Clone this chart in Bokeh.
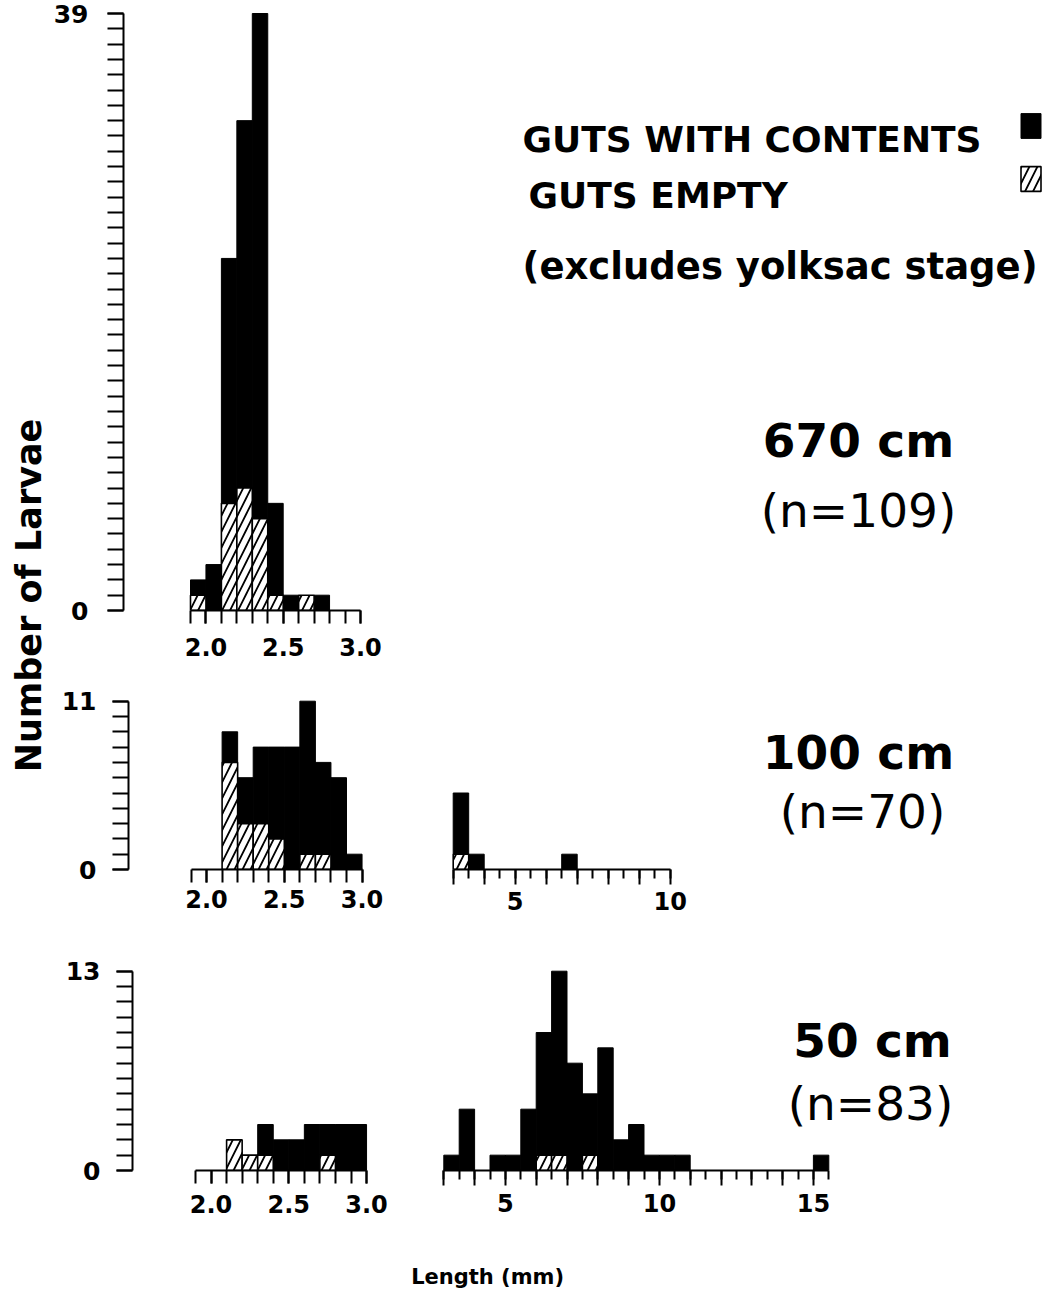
import numpy as np
from bokeh.plotting import figure
from bokeh.layouts import row, column
from bokeh.models import Range1d, FixedTicker, NumeralTickFormatter, Legend, LegendItem
from bokeh.core.properties import value
from bokeh.embed import file_html
from bokeh.resources import INLINE

# ---------------- data ----------------
# 670 cm, 0.1 mm bins (lower edges)
bins_670 = [1.9, 2.0, 2.1, 2.2, 2.3, 2.4, 2.5, 2.6, 2.7]
contents_670 = [1, 3, 16, 24, 33, 6, 1, 0, 1]
empty_670 = [1, 0, 7, 8, 6, 1, 0, 1, 0]

# 100 cm, small lengths (0.1 mm bins) and large lengths (0.5 mm bins)
bins_100_a = [2.1, 2.2, 2.3, 2.4, 2.5, 2.6, 2.7, 2.8, 2.9]
contents_100_a = [2, 3, 5, 6, 8, 10, 6, 6, 1]
empty_100_a = [7, 3, 3, 2, 0, 1, 1, 0, 0]
bins_100_b = [3.0, 3.5, 6.5]
contents_100_b = [4, 1, 1]
empty_100_b = [1, 0, 0]

# 50 cm
bins_50_a = [2.1, 2.2, 2.3, 2.4, 2.5, 2.6, 2.7, 2.8, 2.9]
contents_50_a = [0, 0, 2, 2, 2, 3, 2, 3, 3]
empty_50_a = [2, 1, 1, 0, 0, 0, 1, 0, 0]
bins_50_b = [3.0, 3.5, 4.5, 5.0, 5.5, 6.0, 6.5, 7.0, 7.5, 8.0, 8.5, 9.0, 9.5, 10.0, 10.5, 15.0]
contents_50_b = [1, 4, 1, 1, 4, 8, 12, 7, 4, 8, 2, 3, 1, 1, 1, 1]
empty_50_b = [0, 0, 0, 0, 0, 1, 1, 0, 1, 0, 0, 0, 0, 0, 0, 0]

y_max = [39, 11, 13]
small_tick_labels = [2.0, 2.5, 3.0]
large_tick_labels_100 = [5, 10]
large_tick_labels_50 = [5, 10, 15]
small_range = (1.9, 3.0)
large_range_100 = (3.0, 10.0)
large_range_50 = (3.0, 15.5)
depth_labels = ["670 cm", "100 cm", "50 cm"]
n_labels = ["(n=109)", "(n=70)", "(n=83)"]
legend_labels = ["GUTS WITH CONTENTS", "GUTS EMPTY"]
note_text = "(excludes yolksac stage)"
y_title = "Number of Larvae"
x_title = "Length (mm)"

SMALL_W = 0.1
LARGE_W = 0.5
FONT = "DejaVu Sans"
PAGE_H = 1290


# ---------------- geometry helpers (page pixel layout) ----------------
class Geo:
    def __init__(self, left, top, w, h, fl, fr, ft, fb, xref_px, xref_val, xppu, yppu):
        self.left, self.top, self.w, self.h = left, top, w, h
        self.fl, self.fr, self.ft, self.fb = fl, fr, ft, fb
        self.xref_px, self.xref_val, self.xppu, self.yppu = xref_px, xref_val, xppu, yppu

    def x(self, X):
        return self.xref_val + (X - self.xref_px) / self.xppu

    def y(self, Y):
        return (self.fb - Y) / self.yppu


def make_fig(g, with_y):
    p = figure(width=g.w, height=g.h, output_backend="svg", toolbar_location=None, title=None,
               x_range=Range1d(g.x(g.fl), g.x(g.fr)), y_range=Range1d(0, g.y(g.ft)),
               x_axis_type="linear", y_axis_type=("linear" if with_y else None),
               min_border_left=int(round(g.fl - g.left)),
               min_border_right=int(round(g.left + g.w - g.fr)),
               min_border_top=int(round(g.ft - g.top)),
               min_border_bottom=int(round(g.top + g.h - g.fb)))
    p.outline_line_color = None
    p.grid.visible = False
    p.background_fill_color = "white"
    p.border_fill_color = "white"
    return p


def style_axis(ax, size, standoff):
    ax.axis_line_width = 2
    ax.axis_line_color = "black"
    ax.major_tick_line_width = 2
    ax.minor_tick_line_width = 2
    ax.major_tick_line_color = "black"
    ax.minor_tick_line_color = "black"
    ax.major_tick_in = 0
    ax.minor_tick_in = 0
    ax.major_label_text_font = FONT
    ax.major_label_text_font_style = "bold"
    ax.major_label_text_font_size = size
    ax.major_label_text_color = "black"
    ax.major_label_standoff = standoff


def small_xaxis(p, standoff):
    ax = p.xaxis[0]
    ax.bounds = small_range
    minor = [round(v, 1) for v in np.arange(small_range[0], small_range[1] + 0.001, SMALL_W)]
    ax.ticker = FixedTicker(ticks=small_tick_labels, minor_ticks=minor)
    ax.formatter = NumeralTickFormatter(format="0.0")
    style_axis(ax, "24px", standoff)
    ax.major_tick_out = 13
    ax.minor_tick_out = 13


def large_xaxis(p, rng, labels, standoff):
    ax = p.xaxis[0]
    ax.bounds = rng
    majors = list(range(int(rng[0]), int(np.floor(rng[1])) + 1))
    minor = [float(v) for v in np.arange(rng[0], rng[1] + 0.001, LARGE_W)]
    ax.ticker = FixedTicker(ticks=majors, minor_ticks=minor)
    ax.major_label_overrides = {m: "" for m in majors if m not in labels}
    style_axis(ax, "24px", standoff)
    ax.major_tick_out = 15
    ax.minor_tick_out = 9


def yaxis(p, ymax, standoff):
    ax = p.yaxis[0]
    ax.bounds = (0, ymax)
    ax.ticker = FixedTicker(ticks=[0, ymax], minor_ticks=list(range(0, ymax + 1)))
    style_axis(ax, "25px", standoff)
    ax.major_tick_out = 16
    ax.minor_tick_out = 16


def draw_bars(p, bins, contents, empty, width):
    left = np.array(bins, dtype=float)
    c = np.array(contents, dtype=float)
    e = np.array(empty, dtype=float)
    xc = left + width / 2
    mc = c > 0
    black = p.vbar(x=xc[mc], width=width, bottom=e[mc], top=(e + c)[mc],
                   fill_color="black", line_color="black", line_width=1)
    me = e > 0
    hatched = p.vbar(x=xc[me], width=width, bottom=0, top=e[me],
                     fill_color="white", line_color="black", line_width=1.6,
                     hatch_pattern="/", hatch_color="black", hatch_scale=16, hatch_weight=1.8)
    return black, hatched


def add_text(p, g, X, Y, txt, size, bold=True, align="left"):
    p.text(x=[g.x(X)], y=[g.y(Y)], text=[txt], text_font=value(FONT),
           text_font_style=("bold" if bold else "normal"), text_font_size=size,
           text_align=align, text_baseline="alphabetic", text_color="black")


# ---------------- band A : 670 cm ----------------
gA = Geo(50, 0, 992, 668, 123, 1042, 0, 610, 190, 1.9, 154.5, (610 - 13) / 39)
pA = make_fig(gA, True)
blkA, hatA = draw_bars(pA, bins_670, contents_670, empty_670, SMALL_W)
small_xaxis(pA, 14)
yaxis(pA, y_max[0], 19)
add_text(pA, gA, 522, 139, legend_labels[0], "36px")
add_text(pA, gA, 528, 195, legend_labels[1], "36px")
add_text(pA, gA, 522, 266, note_text, "37px")
add_text(pA, gA, 858, 440, depth_labels[0], "47px", align="center")
add_text(pA, gA, 858, 510, n_labels[0], "47px", bold=False, align="center")
legend = Legend(items=[LegendItem(label=" ", renderers=[blkA]),
                       LegendItem(label=" ", renderers=[hatA])],
                location=(1017.5 - 123, 610 - 193.5), orientation="vertical",
                glyph_width=25, glyph_height=31, spacing=22, padding=0, margin=0,
                label_standoff=0, label_width=0, label_height=1,
                label_text_font_size="1px", border_line_color=None,
                background_fill_alpha=0)
pA.add_layout(legend)

# ---------------- band B : 100 cm ----------------
yB = (869 - 700.7) / 11
gB1 = Geo(50, 668, 350, 267, 128, 400, 668, 869, 190.5, 1.9, 155.5, yB)
gB2 = Geo(400, 668, 642, 267, 400, 1042, 668, 869, 452.7, 3.0, 31.0, yB)
pB1 = make_fig(gB1, True)
draw_bars(pB1, bins_100_a, contents_100_a, empty_100_a, SMALL_W)
small_xaxis(pB1, 7)
yaxis(pB1, y_max[1], 16)
pB2 = make_fig(gB2, False)
draw_bars(pB2, bins_100_b, contents_100_b, empty_100_b, LARGE_W)
large_xaxis(pB2, large_range_100, large_tick_labels_100, 7)
add_text(pB2, gB2, 858, 752, depth_labels[1], "47px", align="center")
add_text(pB2, gB2, 862, 811, n_labels[1], "47px", bold=False, align="center")

# ---------------- band C : 50 cm ----------------
yC = (1170 - 970.7) / 13
gC1 = Geo(50, 935, 370, 293, 132, 420, 935, 1170, 195, 1.9, 155.5, yC)
gC2 = Geo(420, 935, 622, 293, 420, 1042, 935, 1170, 443.3, 3.0, 30.8, yC)
pC1 = make_fig(gC1, True)
draw_bars(pC1, bins_50_a, contents_50_a, empty_50_a, SMALL_W)
small_xaxis(pC1, 11)
yaxis(pC1, y_max[2], 16)
pC2 = make_fig(gC2, False)
draw_bars(pC2, bins_50_b, contents_50_b, empty_50_b, LARGE_W)
large_xaxis(pC2, large_range_50, large_tick_labels_50, 8)
add_text(pC2, gC2, 872, 1040, depth_labels[2], "47px", align="center")
add_text(pC2, gC2, 870, 1103, n_labels[2], "47px", bold=False, align="center")

# ---------------- band D : x title ----------------
pD = figure(width=992, height=PAGE_H - 1228, output_backend="svg", toolbar_location=None,
            title=None, x_range=Range1d(50, 1042), y_range=Range1d(0, PAGE_H - 1228),
            x_axis_type=None, y_axis_type=None, min_border=0)
pD.outline_line_color = None
pD.grid.visible = False
pD.text(x=[443], y=[PAGE_H - 1276], text=[x_title], text_font=value(FONT), text_font_style="bold",
        text_font_size="21px", text_align="center", text_baseline="alphabetic", text_color="black")

# ---------------- y title column ----------------
pY = figure(width=50, height=PAGE_H, output_backend="svg", toolbar_location=None, title=None,
            x_range=Range1d(0, 50), y_range=Range1d(0, PAGE_H),
            x_axis_type=None, y_axis_type=None, min_border=0)
pY.outline_line_color = None
pY.grid.visible = False
pY.text(x=[28], y=[PAGE_H - 595], text=[y_title], angle=np.pi / 2, text_font=value(FONT),
        text_font_style="bold", text_font_size="35px", text_align="center",
        text_baseline="middle", text_color="black")

layout = row(pY, column(pA, row(pB1, pB2), row(pC1, pC2), pD))

open("out.html", "w").write(file_html(layout, INLINE))
